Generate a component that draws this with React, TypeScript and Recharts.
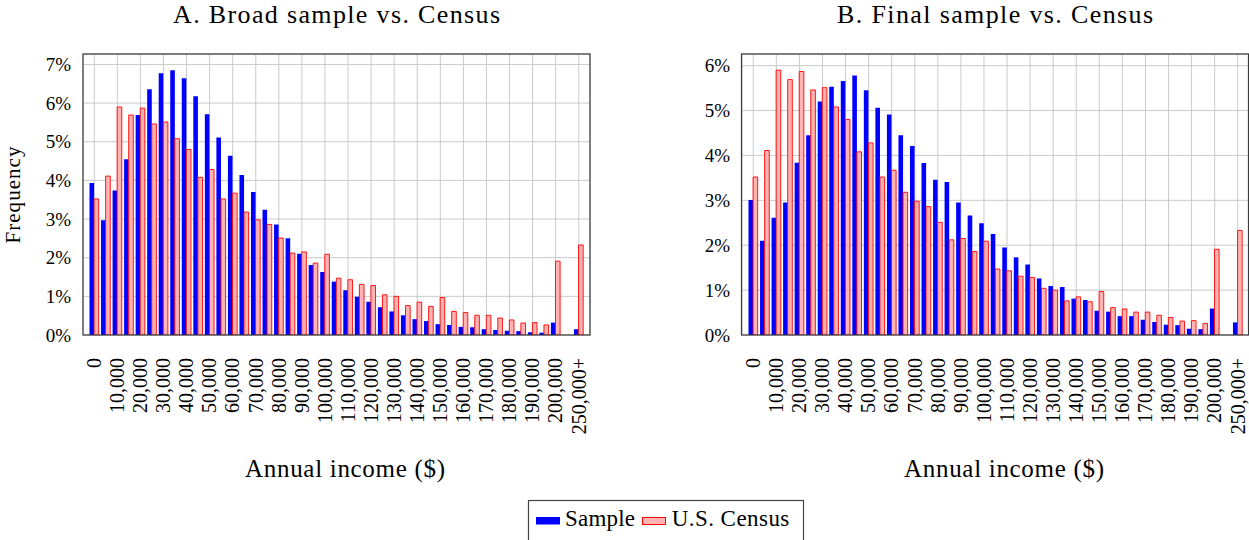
import React from 'react';
import { BarChart, Bar, XAxis, YAxis, CartesianGrid } from 'recharts';

// ---------- data ----------
const binLabels = [
  '0', '5,000', '10,000', '15,000', '20,000', '25,000', '30,000', '35,000', '40,000', '45,000',
  '50,000', '55,000', '60,000', '65,000', '70,000', '75,000', '80,000', '85,000', '90,000', '95,000',
  '100,000', '105,000', '110,000', '115,000', '120,000', '125,000', '130,000', '135,000', '140,000', '145,000',
  '150,000', '155,000', '160,000', '165,000', '170,000', '175,000', '180,000', '185,000', '190,000', '195,000',
  '200,000', '250,000+',
];

const tickLabels = [
  '0', '10,000', '20,000', '30,000', '40,000', '50,000', '60,000', '70,000', '80,000', '90,000',
  '100,000', '110,000', '120,000', '130,000', '140,000', '150,000', '160,000', '170,000', '180,000',
  '190,000', '200,000', '250,000+',
];

// percent of respondents per income bin
const broadSample = [
  3.93, 2.97, 3.74, 4.55, 5.69, 6.36, 6.77, 6.85, 6.64, 6.18,
  5.71, 5.11, 4.64, 4.14, 3.70, 3.24, 2.86, 2.50, 2.10, 1.81,
  1.63, 1.38, 1.16, 0.99, 0.86, 0.72, 0.61, 0.51, 0.41, 0.36,
  0.28, 0.26, 0.21, 0.20, 0.15, 0.13, 0.11, 0.10, 0.07, 0.06,
  0.32, 0.15,
];

const finalSample = [
  3.01, 2.10, 2.61, 2.95, 3.84, 4.45, 5.20, 5.53, 5.66, 5.78,
  5.45, 5.06, 4.91, 4.45, 4.21, 3.83, 3.46, 3.41, 2.95, 2.66,
  2.49, 2.25, 1.95, 1.73, 1.57, 1.26, 1.09, 1.07, 0.81, 0.78,
  0.54, 0.52, 0.42, 0.42, 0.34, 0.29, 0.23, 0.22, 0.14, 0.13,
  0.59, 0.28,
];

const census = [
  3.52, 4.11, 5.90, 5.69, 5.87, 5.46, 5.51, 5.08, 4.80, 4.08,
  4.28, 3.52, 3.67, 3.18, 2.98, 2.86, 2.51, 2.12, 2.15, 1.86,
  2.09, 1.47, 1.43, 1.31, 1.28, 1.04, 1.00, 0.76, 0.85, 0.74,
  0.97, 0.61, 0.58, 0.51, 0.51, 0.44, 0.39, 0.31, 0.32, 0.26,
  1.91, 2.33,
];

const yTicksA = [0, 1, 2, 3, 4, 5, 6, 7];
const yTicksB = [0, 1, 2, 3, 4, 5, 6];

// ---------- helpers ----------
const FONT = '"Liberation Serif", "Times New Roman", serif';

function buildRows(sample: number[], cen: number[]) {
  const rows: any[] = binLabels.map((label, i) => ({ label, sample: sample[i], census: cen[i] }));
  // empty slot between the 200,000 bin and the open-ended top bin
  rows.splice(rows.length - 1, 0, { label: ' ', sample: null, census: null });
  return rows;
}

const XTick = (props: any) => {
  const { x, y, payload } = props;
  return (
    <text
      x={x}
      y={y}
      dy="0.34em"
      transform={`rotate(-90, ${x}, ${y})`}
      textAnchor="end"
      fontFamily={FONT}
      fontSize={20}
      fill="#000"
    >
      {payload.value}
    </text>
  );
};

const BLUE = '#0000ff';
const PINK = '#ffb3b3';
const RED = '#ff0000';
const GRID = '#c4c4c4';

function Panel(props: { rows: any[]; yMax: number; yTicks: number[]; width: number; right: number }) {
  const { rows, yMax, yTicks, width, right } = props;
  return (
    <BarChart
      width={width}
      height={540}
      data={rows}
      margin={{ top: 54, right, bottom: 0, left: 0 }}
      barGap={0}
      barCategoryGap={0}
    >
      <CartesianGrid stroke={GRID} strokeWidth={0.9} />
      <XAxis
        dataKey="label"
        type="category"
        ticks={tickLabels}
        interval={0}
        tick={<XTick />}
        tickLine={false}
        axisLine={false}
        tickMargin={17}
        height={205}
        padding={{ left: 5.5, right: 5.5 }}
      />
      <YAxis
        type="number"
        domain={[0, yMax]}
        ticks={yTicks}
        allowDataOverflow
        width={83}
        tickLine={false}
        axisLine={false}
        tickMargin={6}
        tick={{ fontFamily: FONT, fontSize: 19, fill: '#000' }}
        tickFormatter={(v: number) => `${v}%`}
      />
      <Bar dataKey="sample" name="Sample" fill={BLUE} barSize={4.6} isAnimationActive={false} />
      <Bar
        dataKey="census"
        name="U.S. Census"
        fill={PINK}
        stroke={RED}
        strokeWidth={0.9}
        barSize={4.6}
        isAnimationActive={false}
      />
    </BarChart>
  );
}

export default function App() {
  const rowsA = buildRows(broadSample, census);
  const rowsB = buildRows(finalSample, census);
  const txt = { fontFamily: FONT, fill: '#000' } as const;
  return (
    <div
      style={{
        position: 'absolute',
        left: 0,
        top: 0,
        width: 1249,
        height: 540,
        overflow: 'hidden',
        background: '#fff',
      }}
    >
      <div style={{ position: 'absolute', left: 0, top: 0 }}>
        <Panel rows={rowsA} yMax={7.27} yTicks={yTicksA} width={600} right={10} />
      </div>
      <div style={{ position: 'absolute', left: 658.5, top: 0 }}>
        <Panel rows={rowsB} yMax={6.26} yTicks={yTicksB} width={600} right={10} />
      </div>
      <svg
        width={1249}
        height={540}
        style={{ position: 'absolute', left: 0, top: 0, pointerEvents: 'none' }}
      >
        {/* axis frames */}
        <rect x={83} y={54} width={507} height={281} fill="none" stroke="#3a3a3a" strokeWidth={1.2} />
        <rect x={741.5} y={54} width={507} height={281} fill="none" stroke="#3a3a3a" strokeWidth={1.2} />

        {/* titles */}
        <text x={336.5} y={23} textAnchor="middle" fontSize={26} textLength={327} lengthAdjust="spacing" {...txt}>
          A. Broad sample vs. Census
        </text>
        <text x={995} y={23} textAnchor="middle" fontSize={26} textLength={316} lengthAdjust="spacing" {...txt}>
          B. Final sample vs. Census
        </text>

        {/* axis labels */}
        <text
          x={20}
          y={195}
          transform="rotate(-90, 20, 195)"
          textAnchor="middle"
          fontSize={21}
          textLength={97}
          lengthAdjust="spacing"
          {...txt}
        >
          Frequency
        </text>
        <text x={345} y={477} textAnchor="middle" fontSize={25} textLength={200} lengthAdjust="spacing" {...txt}>
          Annual income ($)
        </text>
        <text x={1004} y={477} textAnchor="middle" fontSize={25} textLength={200} lengthAdjust="spacing" {...txt}>
          Annual income ($)
        </text>

        {/* legend */}
        <rect x={528.5} y={500.5} width={275} height={60} fill="#fff" stroke="#444" strokeWidth={1.2} />
        <rect x={536} y={517} width={24} height={7.5} fill={BLUE} />
        <text x={565} y={526} fontSize={23} textLength={70} lengthAdjust="spacing" {...txt}>
          Sample
        </text>
        <rect x={642.5} y={517.5} width={23} height={7} fill={PINK} stroke={RED} strokeWidth={1} />
        <text x={671.7} y={526} fontSize={23} textLength={117.6} lengthAdjust="spacing" {...txt}>
          U.S. Census
        </text>
      </svg>
    </div>
  );
}
